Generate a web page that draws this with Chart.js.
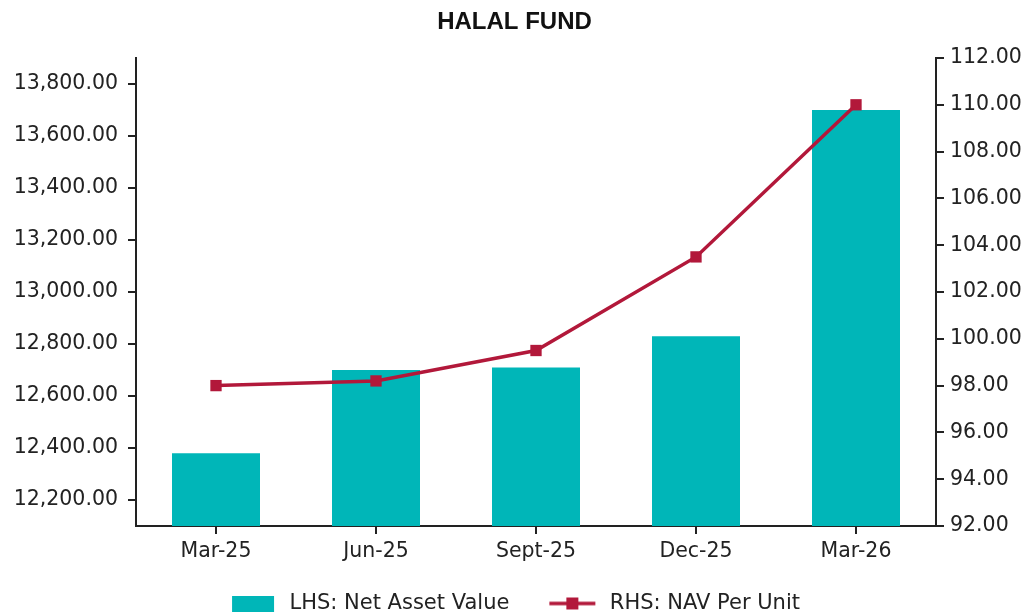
<!DOCTYPE html>
<html>
<head>
<meta charset="utf-8">
<script src="https://cdn.jsdelivr.net/npm/chart.js@4/dist/chart.umd.min.js"></script>
<style>
  html, body { margin: 0; padding: 0; background: #fff; }
  #wrap { width: 1029px; height: 615px; position: relative; }
</style>
</head>
<body>
<div id="wrap"><canvas id="c" width="1029" height="615"></canvas></div>
<script>
const categories = ['Mar-25', 'Jun-25', 'Sept-25', 'Dec-25', 'Mar-26'];
const netAssetValue = [12380, 12700, 12710, 12830, 13700];
const navPerUnit = [98.0, 98.2, 99.5, 103.5, 110.0];
const leftTicks = [12200, 12400, 12600, 12800, 13000, 13200, 13400, 13600, 13800];
const rightTicks = [92, 94, 96, 98, 100, 102, 104, 106, 108, 110, 112];
const seriesNames = ['LHS: Net Asset Value', 'RHS: NAV Per Unit'];

const TEAL = '#00B6B8';
const RED = '#B2183A';
const AXIS = '#222222';
const FONT = 'DejaVu Sans';
const ICON_W = 80;

function fmt(v) {
  return Number(v).toLocaleString('en-US', { minimumFractionDigits: 2, maximumFractionDigits: 2 });
}

// legend markers (include blank space so spacing matches reference)
const barIcon = document.createElement('canvas');
barIcon.width = ICON_W; barIcon.height = 16;
(function () {
  const g = barIcon.getContext('2d');
  g.fillStyle = TEAL; g.fillRect(33, 0, 42, 16);
})();
const lineIcon = document.createElement('canvas');
lineIcon.width = ICON_W; lineIcon.height = 16;
(function () {
  const g = lineIcon.getContext('2d');
  g.strokeStyle = RED; g.lineWidth = 3.5;
  g.beginPath(); g.moveTo(30, 8); g.lineTo(76, 8); g.stroke();
  g.fillStyle = RED; g.fillRect(47, 2, 12, 12);
})();

const legendShift = {
  id: 'legendShift',
  afterLayout(chart) {
    if (chart.legend) { chart.legend.left -= 15; chart.legend.right -= 15; }
  }
};

new Chart(document.getElementById('c'), {
  data: {
    labels: categories,
    datasets: [
      {
        type: 'bar',
        label: seriesNames[0],
        data: netAssetValue,
        backgroundColor: TEAL,
        yAxisID: 'yL',
        barPercentage: 0.55,
        categoryPercentage: 1.0,
        order: 2
      },
      {
        type: 'line',
        label: seriesNames[1],
        data: navPerUnit,
        borderColor: RED,
        backgroundColor: RED,
        borderWidth: 3.5,
        pointStyle: 'rect',
        pointRadius: 8,
        pointHoverRadius: 8,
        pointBackgroundColor: RED,
        pointBorderWidth: 0,
        tension: 0,
        yAxisID: 'yR',
        order: 1
      }
    ]
  },
  plugins: [legendShift],
  options: {
    responsive: false,
    animation: false,
    layout: { padding: { left: 0, right: 0, top: 0, bottom: -9 } },
    plugins: {
      title: {
        display: true,
        text: 'HALAL FUND',
        color: '#111',
        font: { family: 'Liberation Sans', size: 24, weight: 'bold' },
        padding: { top: 8, bottom: 21.2 }
      },
      legend: {
        display: true,
        position: 'bottom',
        labels: {
          color: '#222',
          font: { family: FONT, size: 21 },
          usePointStyle: true,
          pointStyleWidth: ICON_W,
          boxWidth: ICON_W,
          boxHeight: 16,
          padding: 10,
          generateLabels: function (chart) {
            return [
              { text: seriesNames[0], pointStyle: barIcon, fillStyle: TEAL, strokeStyle: TEAL, lineWidth: 0, datasetIndex: 0, hidden: false, fontColor: '#222' },
              { text: seriesNames[1], pointStyle: lineIcon, fillStyle: RED, strokeStyle: RED, lineWidth: 0, datasetIndex: 1, hidden: false, fontColor: '#222' }
            ];
          }
        }
      },
      tooltip: { enabled: false }
    },
    scales: {
      x: {
        type: 'category',
        offset: true,
        afterFit: function (scale) { scale.height = 57; },
        grid: { offset: false, drawOnChartArea: false, drawTicks: true, tickLength: 8, color: AXIS, lineWidth: 2 },
        border: { display: true, color: AXIS, width: 2 },
        ticks: { color: '#222', font: { family: FONT, size: 20.5 }, padding: 5, maxRotation: 0 }
      },
      yL: {
        type: 'linear',
        position: 'left',
        min: 12100,
        max: 13900,
        afterBuildTicks: function (scale) { scale.ticks = leftTicks.map(v => ({ value: v })); },
        afterFit: function (scale) { scale.width = 136; },
        grid: { drawOnChartArea: false, drawTicks: true, tickLength: 8, color: AXIS, lineWidth: 2 },
        border: { display: true, color: AXIS, width: 2 },
        ticks: { color: '#222', font: { family: FONT, size: 20.5 }, padding: 10, callback: v => fmt(v) }
      },
      yR: {
        type: 'linear',
        position: 'right',
        min: 92,
        max: 112,
        afterBuildTicks: function (scale) { scale.ticks = rightTicks.map(v => ({ value: v })); },
        afterFit: function (scale) { scale.width = 93; },
        grid: { drawOnChartArea: false, drawTicks: true, tickLength: 8, color: AXIS, lineWidth: 2 },
        border: { display: true, color: AXIS, width: 2 },
        ticks: { color: '#222', font: { family: FONT, size: 20.5 }, padding: 6, callback: v => fmt(v) }
      }
    }
  }
});
</script>
</body>
</html>
